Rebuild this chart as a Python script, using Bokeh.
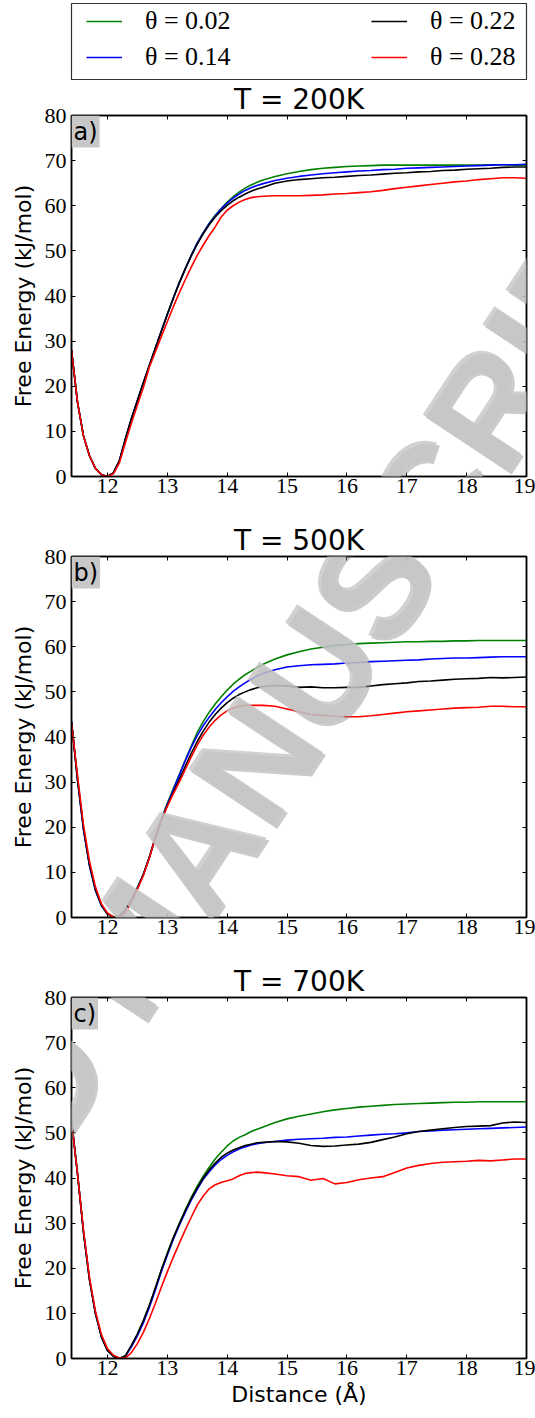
from bokeh.plotting import figure
from bokeh.models import (Range1d, FixedTicker, LinearAxis, Label, Legend,
                          LegendItem, Title)
from bokeh.layouts import column
from bokeh.embed import file_html
from bokeh.resources import INLINE

# ---------------------------------------------------------------- data
distance = [11.4, 11.5, 11.6, 11.7, 11.8, 11.9, 12.0, 12.1, 12.2, 12.3, 12.4,
            12.5, 12.6, 12.7, 12.8, 12.9, 13.0, 13.1, 13.2, 13.3, 13.4, 13.5,
            13.6, 13.7, 13.8, 13.9, 14.0, 14.1, 14.2, 14.3, 14.4, 14.5, 14.6,
            14.8, 15.0, 15.2, 15.4, 15.6, 15.8, 16.0, 16.2, 16.4, 16.6, 16.8,
            17.0, 17.2, 17.4, 17.6, 17.8, 18.0, 18.2, 18.4, 18.6, 18.8, 19.0]

thetas = ["0.02", "0.14", "0.22", "0.28"]
colors = ["#008000", "#0000ff", "#000000", "#ff0000"]
temperatures = ["200K", "500K", "700K"]
panel_tags = ["a)", "b)", "c)"]
x_ticks = [12, 13, 14, 15, 16, 17, 18, 19]
y_ticks = [0, 10, 20, 30, 40, 50, 60, 70, 80]

# T = 200 K, free energy (kJ/mol)
fe200_002 = [28.0, 16.5, 9.0, 4.6, 1.8, 0.4, 0.0, 0.8, 3.5, 8.3, 12.8,
             16.8, 20.8, 24.6, 28.4, 32.2, 35.9, 39.5, 42.9, 46.0, 49.0, 51.7,
             54.0, 56.1, 57.9, 59.4, 60.8, 62.0, 63.0, 63.9, 64.6, 65.2, 65.7,
             66.5, 67.1, 67.6, 68.0, 68.3, 68.5, 68.7, 68.8, 68.9, 69.0, 69.0,
             69.0, 69.0, 69.0, 69.0, 69.0, 69.0, 69.0, 69.1, 69.1, 69.0, 69.0]
fe200_014 = [28.0, 16.5, 9.0, 4.6, 1.8, 0.4, 0.0, 0.8, 3.5, 8.3, 12.8,
             16.8, 20.8, 24.6, 28.4, 32.2, 35.9, 39.5, 42.9, 46.0, 49.0, 51.7,
             54.0, 56.0, 57.7, 59.3, 60.6, 61.7, 62.6, 63.4, 64.0, 64.5, 64.9,
             65.6, 66.1, 66.5, 66.8, 67.1, 67.3, 67.5, 67.7, 67.8, 68.0, 68.1,
             68.3, 68.4, 68.5, 68.6, 68.7, 68.8, 68.9, 69.0, 69.1, 69.1, 69.2]
fe200_022 = [28.0, 16.5, 9.0, 4.6, 1.8, 0.4, 0.0, 0.8, 3.5, 8.3, 12.8,
             16.8, 20.8, 24.6, 28.4, 32.2, 35.9, 39.5, 42.9, 46.0, 48.9, 51.5,
             53.8, 55.8, 57.5, 58.9, 60.1, 61.1, 61.9, 62.6, 63.2, 63.7, 64.1,
             65.0, 65.5, 65.8, 66.0, 66.2, 66.3, 66.5, 66.7, 66.8, 67.0, 67.2,
             67.3, 67.5, 67.6, 67.8, 67.9, 68.1, 68.2, 68.3, 68.5, 68.6, 68.6]
fe200_028 = [28.0, 16.5, 9.0, 4.6, 1.8, 0.4, 0.0, 0.6, 3.0, 7.5, 11.8,
             15.8, 19.7, 24.2, 27.6, 31.0, 34.3, 37.6, 40.7, 43.6, 46.4, 49.0,
             51.3, 53.4, 55.3, 57.5, 59.0, 60.0, 60.8, 61.4, 61.8, 62.0, 62.1,
             62.2, 62.2, 62.2, 62.3, 62.4, 62.6, 62.7, 62.9, 63.1, 63.4, 63.8,
             64.1, 64.4, 64.7, 65.0, 65.3, 65.5, 65.8, 66.0, 66.2, 66.2, 66.1]

# T = 500 K
fe500_002 = [43.5, 30.5, 19.5, 11.5, 6.0, 2.6, 0.7, 0.0, 0.4, 1.8, 4.0,
             6.6, 9.6, 13.4, 17.8, 21.8, 25.3, 28.5, 31.7, 34.9, 38.0, 41.0,
             43.4, 45.5, 47.3, 48.9, 50.4, 51.7, 52.8, 53.8, 54.6, 55.4, 56.1,
             57.3, 58.2, 58.9, 59.5, 59.9, 60.3, 60.5, 60.7, 60.8, 60.9, 61.0,
             61.1, 61.1, 61.2, 61.2, 61.3, 61.3, 61.4, 61.4, 61.4, 61.4, 61.4]
fe500_014 = [43.5, 30.5, 19.5, 11.5, 6.0, 2.6, 0.8, 0.1, 0.3, 1.6, 3.8,
             6.5, 9.5, 13.3, 17.7, 21.6, 25.1, 28.3, 31.5, 34.7, 37.7, 40.3,
             42.5, 44.4, 46.1, 47.6, 48.9, 50.1, 51.1, 52.0, 52.8, 53.5, 54.1,
             54.9, 55.5, 55.8, 56.0, 56.1, 56.2, 56.4, 56.5, 56.7, 56.8, 56.9,
             57.0, 57.1, 57.3, 57.4, 57.5, 57.5, 57.6, 57.7, 57.8, 57.8, 57.8]
fe500_022 = [43.3, 30.8, 19.8, 11.8, 6.2, 2.8, 0.9, 0.1, 0.2, 1.5, 3.7,
             6.4, 9.5, 13.3, 17.6, 21.4, 24.8, 27.8, 30.6, 33.5, 36.4, 39.0,
             41.3, 43.3, 45.0, 46.4, 47.6, 48.6, 49.4, 50.0, 50.5, 50.9, 51.2,
             51.4, 51.3, 51.0, 51.1, 50.9, 50.9, 51.0, 51.0, 51.3, 51.6, 51.8,
             52.0, 52.3, 52.4, 52.6, 52.8, 52.9, 53.0, 53.2, 53.1, 53.2, 53.3]
fe500_028 = [43.0, 31.5, 20.5, 12.5, 6.8, 3.0, 1.0, 0.1, 0.1, 1.2, 3.4,
             6.2, 9.3, 13.2, 17.8, 21.6, 24.6, 27.4, 30.0, 32.8, 35.6, 38.2,
             40.4, 42.2, 43.7, 44.9, 45.8, 46.4, 46.8, 47.0, 47.0, 47.0, 47.0,
             46.8, 46.2, 45.6, 45.0, 44.8, 44.6, 44.5, 44.5, 44.7, 45.0, 45.3,
             45.6, 45.8, 46.0, 46.2, 46.4, 46.5, 46.6, 46.8, 46.8, 46.7, 46.7]

# T = 700 K
fe700_002 = [52.8, 41.0, 28.0, 17.5, 10.0, 4.8, 1.8, 0.5, 0.0, 0.6, 2.8,
             5.3, 8.3, 11.7, 15.5, 19.6, 23.3, 26.8, 29.9, 32.9, 35.7, 38.2,
             40.4, 42.4, 44.2, 45.7, 47.1, 48.2, 49.0, 49.6, 50.3, 50.8, 51.3,
             52.3, 53.1, 53.7, 54.2, 54.7, 55.1, 55.4, 55.7, 55.9, 56.1, 56.3,
             56.4, 56.5, 56.6, 56.7, 56.8, 56.8, 56.9, 56.9, 56.9, 56.9, 56.9]
fe700_014 = [52.8, 41.0, 28.0, 17.5, 10.0, 4.8, 1.8, 0.5, 0.0, 0.5, 2.6,
             5.0, 7.9, 11.3, 15.1, 19.2, 22.9, 26.4, 29.5, 32.4, 35.1, 37.5,
             39.7, 41.4, 42.9, 44.1, 45.0, 45.8, 46.4, 46.9, 47.3, 47.6, 47.8,
             48.1, 48.4, 48.6, 48.7, 48.8, 49.0, 49.1, 49.3, 49.5, 49.7, 49.8,
             50.0, 50.3, 50.4, 50.6, 50.7, 50.8, 50.9, 51.0, 51.1, 51.2, 51.3]
fe700_022 = [52.8, 41.0, 28.0, 17.5, 10.0, 4.8, 1.8, 0.5, 0.0, 0.6, 2.9,
             5.4, 8.4, 11.8, 15.6, 19.6, 23.2, 26.7, 29.8, 32.7, 35.4, 37.8,
             40.0, 41.8, 43.3, 44.6, 45.5, 46.2, 46.7, 47.2, 47.5, 47.8, 47.9,
             48.1, 48.0, 47.7, 47.2, 47.0, 47.1, 47.3, 47.5, 47.9, 48.5, 49.1,
             49.8, 50.3, 50.6, 50.9, 51.2, 51.4, 51.5, 51.6, 52.2, 52.4, 52.3]
fe700_028 = [52.5, 41.0, 28.5, 18.0, 10.5, 5.3, 2.2, 0.7, 0.1, 0.1, 1.3,
             3.3, 5.8, 8.8, 12.2, 15.8, 19.2, 22.4, 25.5, 28.5, 31.3, 34.0,
             36.0, 37.6, 38.5, 39.0, 39.4, 39.8, 40.5, 41.0, 41.2, 41.3, 41.2,
             40.9, 40.5, 40.3, 39.5, 39.9, 38.7, 39.0, 39.6, 40.0, 40.3, 41.2,
             42.2, 42.8, 43.2, 43.5, 43.6, 43.7, 43.9, 43.8, 44.0, 44.2, 44.2]

panel_series = [
    [fe200_002, fe200_014, fe200_022, fe200_028],
    [fe500_002, fe500_014, fe500_022, fe500_028],
    [fe700_002, fe700_014, fe700_022, fe700_028],
]

# ---------------------------------------------------------------- layout
W = 535
X_START, X_END = 11.4, 19.0
Y_START, Y_END = 0, 80
LEFT, RIGHT = 70, 9
FRAME_W = W - LEFT - RIGHT
FRAME_H = 361
LEGEND_H = 80
PANEL_TOP = [35, 40, 40]
PANEL_BOTTOM = [40, 40, 60]

SANS = "DejaVu Sans"
SERIF = "Liberation Serif"

# page position of each plot frame's top edge
frame_tops = []
acc = LEGEND_H
for top, bottom in zip(PANEL_TOP, PANEL_BOTTOM):
    frame_tops.append(acc + top)
    acc += top + FRAME_H + bottom

# diagonal watermark across the whole page (page pixels, degrees)
WM_TEXT = "ACCEPTED MANUSCRIPT"
WM_CENTER = (132, 944)
WM_ANGLE = 56.5
WM_SIZE = "150px"
WM_FONT = "Liberation Sans"


def add_watermark(p, frame_top):
    sx = FRAME_W / (X_END - X_START)
    sy = FRAME_H / (Y_END - Y_START)
    wx = X_START + (WM_CENTER[0] - LEFT) / sx
    wy = Y_START + (frame_top + FRAME_H - WM_CENTER[1]) / sy
    common = dict(x=wx, y=wy, text=WM_TEXT, angle=WM_ANGLE, angle_units="deg",
                  text_align="center", text_baseline="middle",
                  text_font=WM_FONT, text_font_style="bold",
                  text_font_size=WM_SIZE)
    p.add_layout(Label(x_offset=3, y_offset=-3, text_color="#8c8c8c",
                       text_alpha=0.45, **common))
    p.add_layout(Label(text_color="#c6c6c6", text_alpha=0.8, **common))


# ---------------------------------------------------------------- legend
leg = figure(width=W, height=LEGEND_H, x_range=Range1d(0, 1), y_range=Range1d(0, 1),
             x_axis_type=None, y_axis_type=None, toolbar_location=None,
             output_backend="svg", min_border_left=71, min_border_right=8,
             min_border_top=3, min_border_bottom=1)
leg.grid.visible = False
leg.outline_line_color = "#333333"
leg.outline_line_width = 1.2
leg.background_fill_color = "white"

nan = float("nan")
items = []
for theta, color in zip(thetas, colors):
    r = leg.line(x=[nan, nan], y=[nan, nan], line_color=color, line_width=1.6)
    items.append(LegendItem(label="θ = " + theta, renderers=[r]))

for k, xloc in enumerate([15, 300]):
    lg = Legend(items=items[2 * k:2 * k + 2], location=(xloc, 7),
                orientation="vertical", spacing=6, padding=0, margin=0,
                border_line_color=None, background_fill_alpha=0,
                glyph_width=36, glyph_height=26, label_height=26,
                label_standoff=23, label_text_font=SERIF,
                label_text_font_size="26px", label_text_color="black")
    leg.add_layout(lg)

# ---------------------------------------------------------------- panels
panels = []
for i, temp in enumerate(temperatures):
    last = i == len(temperatures) - 1
    p = figure(width=W, height=PANEL_TOP[i] + FRAME_H + PANEL_BOTTOM[i],
               x_range=Range1d(X_START, X_END), y_range=Range1d(Y_START, Y_END),
               toolbar_location=None, output_backend="svg",
               min_border_left=LEFT, min_border_right=RIGHT,
               min_border_top=PANEL_TOP[i], min_border_bottom=PANEL_BOTTOM[i])
    p.title = Title(text="T = " + temp, align="center", text_font=SANS,
                    text_font_size="28px", text_font_style="normal",
                    text_color="black", standoff=0, offset=0)
    p.grid.visible = False
    p.outline_line_color = "black"
    p.outline_line_width = 1.5
    p.background_fill_color = "white"

    for ax, ticks in ((p.xaxis[0], x_ticks), (p.yaxis[0], y_ticks)):
        ax.ticker = FixedTicker(ticks=ticks)
        ax.major_tick_in = 4
        ax.major_tick_out = 0
        ax.minor_tick_line_color = None
        ax.axis_line_width = 1.5
        ax.major_tick_line_width = 1
        ax.major_label_text_font = SERIF
        ax.major_label_text_font_size = "22px"
        ax.major_label_text_color = "black"
        ax.axis_label_text_font = SANS
        ax.axis_label_text_font_size = "22px"
        ax.axis_label_text_font_style = "normal"
        ax.axis_label_text_color = "black"
    p.xaxis[0].major_label_standoff = 2
    p.yaxis[0].major_label_standoff = 5
    p.yaxis[0].axis_label = "Free Energy (kJ/mol)"
    p.yaxis[0].axis_label_standoff = 6
    if last:
        p.xaxis[0].axis_label = "Distance (Å)"
        p.xaxis[0].axis_label_standoff = 4

    # mirrored inward ticks on the top and right edges (no labels)
    for side, ticks in (("above", x_ticks), ("right", y_ticks)):
        ax = LinearAxis(ticker=FixedTicker(ticks=ticks), major_tick_in=4,
                        major_tick_out=0, minor_tick_line_color=None,
                        axis_line_width=1.5, major_label_text_font_size="0px",
                        major_label_text_color=None, major_label_standoff=0)
        p.add_layout(ax, side)

    for theta, color, fe in zip(thetas, colors, panel_series[i]):
        p.line(distance, fe, line_color=color, line_width=1.6)

    p.add_layout(Label(x=X_START, y=Y_END, text=panel_tags[i], text_align="left",
                       text_baseline="top", text_font=SANS, text_font_size="24px",
                       text_color="black", background_fill_color="#c8c8c8",
                       padding=2))
    add_watermark(p, frame_tops[i])
    panels.append(p)

layout = column(leg, *panels, spacing=0)
open("out.html", "w").write(file_html(layout, INLINE))
